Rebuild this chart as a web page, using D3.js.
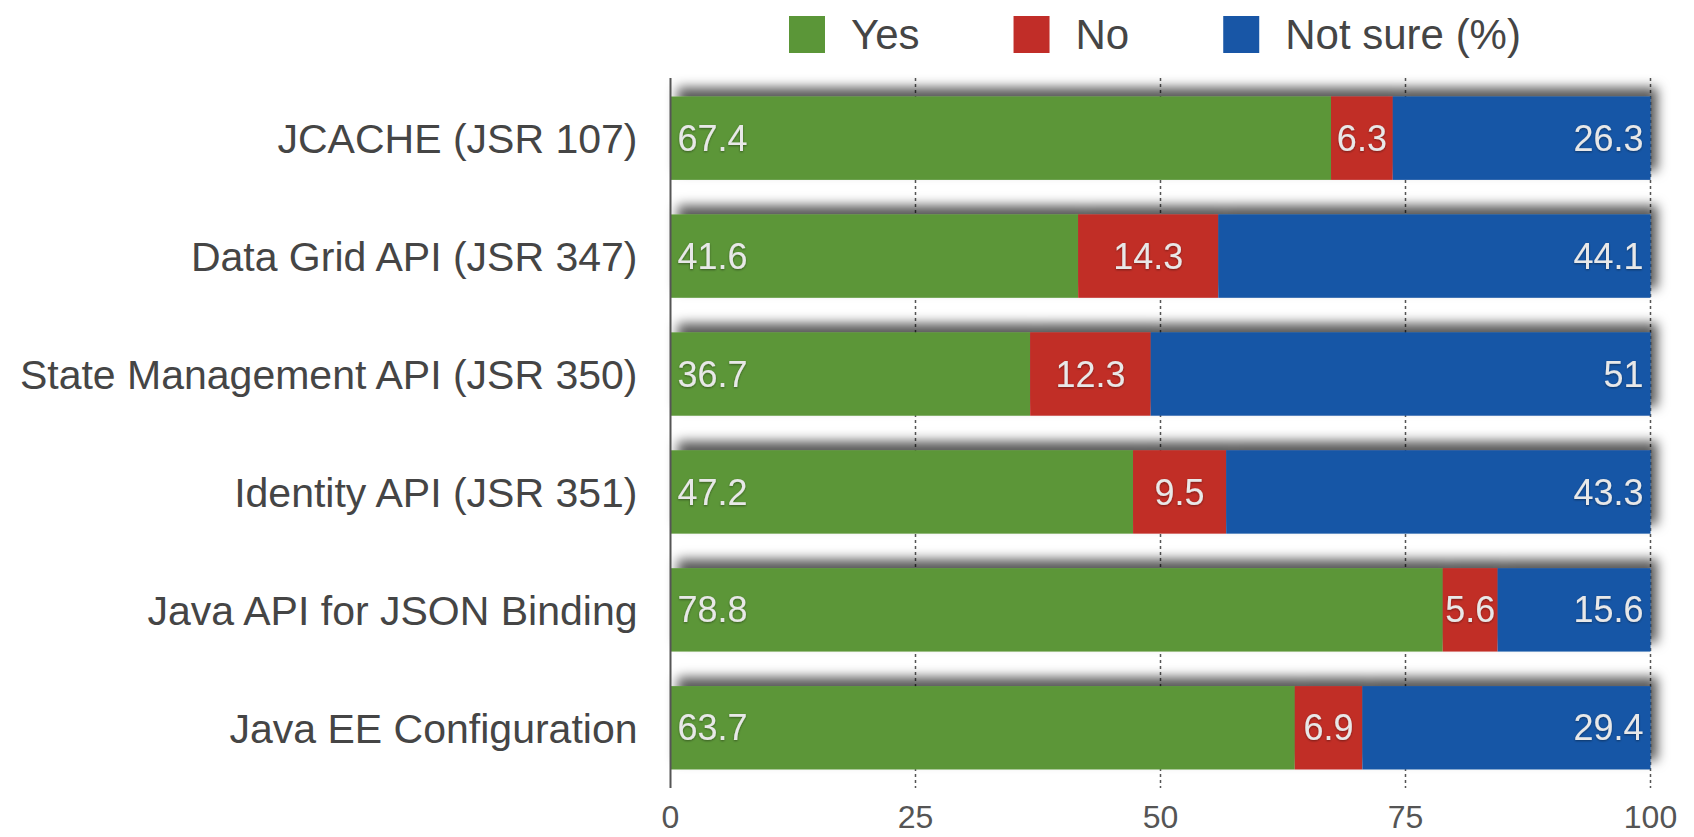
<!DOCTYPE html>
<html>
<head>
<meta charset="utf-8">
<script src="https://cdn.jsdelivr.net/npm/d3@7"></script>
<style>
  body { margin: 0; background: #fff; }
  svg { display: block; font-family: "Liberation Sans", Arial, sans-serif; }
  .cat { font-size: 41px; fill: #454545; }
  .legend-text { font-size: 42px; fill: #454545; }
  .tick-label { font-size: 32px; fill: #555; }
  .val { font-size: 36px; fill: #e8e8e8; }
</style>
</head>
<body>
<div class="chart"></div>
<script>
// chart values
const categories = [
  "JCACHE (JSR 107)",
  "Data Grid API (JSR 347)",
  "State Management API (JSR 350)",
  "Identity API (JSR 351)",
  "Java API for JSON Binding",
  "Java EE Configuration"
];
const yesValues = [67.4, 41.6, 36.7, 47.2, 78.8, 63.7];
const noValues = [6.3, 14.3, 12.3, 9.5, 5.6, 6.9];
const notSureValues = [26.3, 44.1, 51, 43.3, 15.6, 29.4];
const seriesNames = ["Yes", "No", "Not sure (%)"];
const seriesColors = ["#5b9638", "#c12d28", "#1856a6"];
const xTicks = [0, 25, 50, 75, 100];

const widthOfSvg = 1694;
const heightOfSvg = 837;
const plotLeft = 670.5, plotRight = 1650.5, plotTop = 78, plotBottom = 788;

// build rows for the stack
const keys = ["yes", "no", "notSure"];
const rows = categories.map((c, i) => ({
  cat: c, yes: yesValues[i], no: noValues[i], notSure: notSureValues[i]
}));
const stacked = d3.stack().keys(keys)(rows);

const xScale = d3.scaleLinear().domain([0, 100]).range([plotLeft, plotRight]);
const yScale = d3.scaleBand()
  .domain(categories)
  .range([plotTop, plotBottom])
  .paddingInner(0.293)
  .paddingOuter(0.157);

const svg = d3.select(".chart")
  .append("svg")
  .attr("width", widthOfSvg)
  .attr("height", heightOfSvg);

const defs = svg.append("defs");
const shadow = defs.append("filter")
  .attr("id", "barShadow")
  .attr("x", "-5%").attr("y", "-60%")
  .attr("width", "110%").attr("height", "180%");
shadow.append("feDropShadow")
  .attr("dx", 7).attr("dy", -9)
  .attr("stdDeviation", 6)
  .attr("flood-color", "#000")
  .attr("flood-opacity", 0.65);

const textShadow = defs.append("filter").attr("id", "textShadow");
textShadow.append("feDropShadow")
  .attr("dx", 0).attr("dy", 1)
  .attr("stdDeviation", 1.2)
  .attr("flood-color", "#000")
  .attr("flood-opacity", 0.4);

// dashed grid lines (also work as the bottom ticks)
svg.append("g")
  .selectAll("line")
  .data(xTicks.filter(d => d > 0))
  .enter()
  .append("line")
  .attr("x1", d => xScale(d))
  .attr("x2", d => xScale(d))
  .attr("y1", plotTop)
  .attr("y2", plotBottom)
  .attr("stroke", "#555")
  .attr("stroke-width", 1.5)
  .attr("stroke-dasharray", "3,3");

// bars, one group per row so the shadow is cast by the whole bar
const rowG = svg.append("g")
  .selectAll("g")
  .data(categories)
  .enter()
  .append("g")
  .attr("filter", "url(#barShadow)");

rowG.selectAll("rect")
  .data((c, i) => stacked.map((s, k) => ({ k: k, d: s[i], cat: c })))
  .enter()
  .append("rect")
  .attr("x", d => xScale(d.d[0]))
  .attr("y", d => yScale(d.cat))
  .attr("width", d => xScale(d.d[1]) - xScale(d.d[0]))
  .attr("height", yScale.bandwidth())
  .attr("fill", d => seriesColors[d.k]);

// value labels
const labels = [];
stacked.forEach((s, k) => {
  s.forEach((d, i) => labels.push({ k: k, d: d, cat: categories[i], v: d[1] - d[0] }));
});
svg.append("g")
  .selectAll("text")
  .data(labels)
  .enter()
  .append("text")
  .attr("class", "val")
  .attr("filter", "url(#textShadow)")
  .attr("x", d => {
    if (d.k === 0) return xScale(d.d[0]) + 7;
    if (d.k === 1) return (xScale(d.d[0]) + xScale(d.d[1])) / 2;
    return xScale(d.d[1]) - 7;
  })
  .attr("y", d => yScale(d.cat) + yScale.bandwidth() / 2)
  .attr("dy", "0.35em")
  .attr("text-anchor", d => ["start", "middle", "end"][d.k])
  .text(d => +d.v.toFixed(1));

// left axis line
svg.append("line")
  .attr("x1", plotLeft).attr("x2", plotLeft)
  .attr("y1", plotTop).attr("y2", plotBottom)
  .attr("stroke", "#555")
  .attr("stroke-width", 2);

// category labels
svg.append("g")
  .selectAll("text")
  .data(categories)
  .enter()
  .append("text")
  .attr("class", "cat")
  .attr("x", plotLeft - 33)
  .attr("y", d => yScale(d) + yScale.bandwidth() / 2)
  .attr("dy", "0.36em")
  .attr("text-anchor", "end")
  .text(d => d);

// x tick labels
svg.append("g")
  .selectAll("text")
  .data(xTicks)
  .enter()
  .append("text")
  .attr("class", "tick-label")
  .attr("x", d => xScale(d))
  .attr("y", 828)
  .attr("text-anchor", "middle")
  .text(d => d);

// legend
const legend = svg.append("g");
let lx = 789;
seriesNames.forEach((name, k) => {
  legend.append("rect")
    .attr("x", lx).attr("y", 16)
    .attr("width", 36).attr("height", 37)
    .attr("fill", seriesColors[k]);
  const t = legend.append("text")
    .attr("class", "legend-text")
    .attr("x", lx + 62)
    .attr("y", 49)
    .text(name);
  lx += 62 + t.node().getComputedTextLength() + 94;
});
</script>
</body>
</html>
